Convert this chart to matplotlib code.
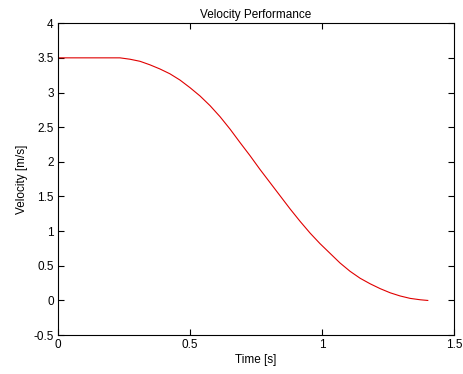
import matplotlib
matplotlib.use('Agg')
import matplotlib.pyplot as plt
from matplotlib.ticker import FuncFormatter

# values
time = [0.0, 0.10, 0.197, 0.235, 0.273, 0.311, 0.348, 0.386, 0.424, 0.462,
        0.5, 0.538, 0.576, 0.614, 0.652, 0.689, 0.727, 0.765, 0.803, 0.841,
        0.879, 0.917, 0.955, 0.992, 1.030, 1.068, 1.106, 1.144, 1.182, 1.220,
        1.258, 1.295, 1.333, 1.371, 1.40]
velocity = [3.5, 3.5, 3.5, 3.5, 3.48, 3.45, 3.40, 3.34, 3.27, 3.18,
            3.07, 2.95, 2.81, 2.65, 2.47, 2.28, 2.09, 1.89, 1.70, 1.51,
            1.32, 1.14, 0.97, 0.82, 0.68, 0.54, 0.42, 0.32, 0.24, 0.17,
            0.11, 0.065, 0.03, 0.01, 0.0]
xticks = [0, 0.5, 1, 1.5]
yticks = [-0.5, 0, 0.5, 1, 1.5, 2, 2.5, 3, 3.5, 4]

plt.rcParams['font.family'] = ['Liberation Sans', 'DejaVu Sans']
plt.rcParams['axes.unicode_minus'] = False

fig = plt.figure(figsize=(4.63, 3.74), dpi=100)
ax = fig.add_axes([0.125, 0.104, 0.856, 0.834])

ax.plot(time, velocity, color='#e00000', linewidth=0.8)

ax.set_xlim(0, 1.5)
ax.set_ylim(-0.5, 4)
ax.set_xticks(xticks)
ax.set_yticks(yticks)
fmt = FuncFormatter(lambda v, pos: f'{v:g}')
ax.xaxis.set_major_formatter(fmt)
ax.yaxis.set_major_formatter(fmt)
ax.tick_params(direction='in', top=True, right=True, length=4, width=0.8,
               labelsize=8.5, pad=3)
for s in ax.spines.values():
    s.set_linewidth(0.8)

ax.set_title('Velocity Performance', fontsize=8.5, pad=4)
ax.set_xlabel('Time [s]', fontsize=8.5, labelpad=2)
ax.set_ylabel('Velocity [m/s]', fontsize=8.5, labelpad=4)

fig.savefig('out.png', dpi=100)
